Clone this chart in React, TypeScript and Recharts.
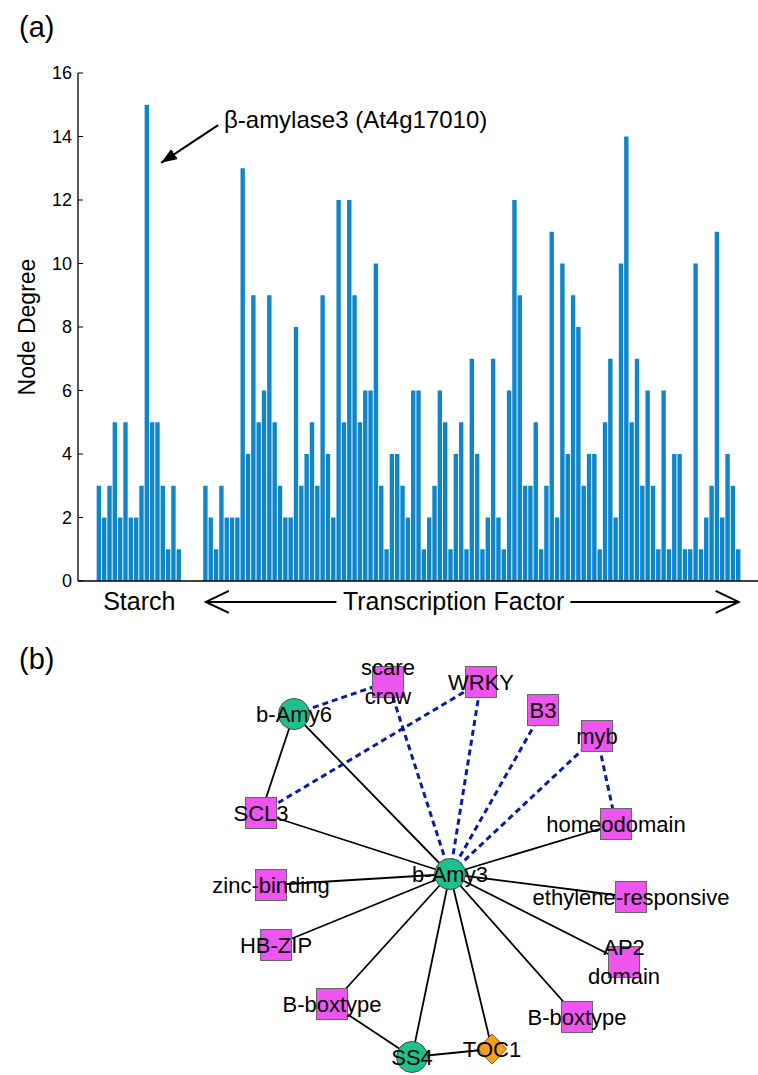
import React from "react";
import { BarChart, Bar, XAxis, YAxis, ReferenceLine, ReferenceDot, ScatterChart, Scatter } from "recharts";

const FONT = "'Liberation Sans', Arial, Helvetica, sans-serif";

// ---- (a) node degree of each gene ----
const starchStart = 4;
const starchDegree = [3, 2, 3, 5, 2, 5, 2, 2, 3, 15, 5, 5, 3, 1, 3, 1];
const tfStart = 24;
const tfDegree = [
  3, 2, 1, 3, 2, 2, 2, 13, 4, 9, 5, 6, 9, 5, 3, 2, 2, 8, 3, 4,
  5, 3, 9, 4, 2, 12, 5, 12, 9, 5, 6, 6, 10, 3, 1, 4, 4, 3, 2, 6,
  6, 1, 2, 3, 6, 5, 1, 4, 5, 1, 7, 4, 1, 2, 7, 2, 1, 6, 12, 9,
  3, 3, 5, 1, 3, 11, 2, 10, 4, 9, 8, 3, 4, 4, 1, 5, 7, 2, 10, 14,
  5, 7, 3, 6, 3, 1, 6, 1, 4, 4, 1, 1, 10, 1, 2, 3, 11, 2, 4, 3, 1,
];
const yTicks = [0, 2, 4, 6, 8, 10, 12, 14, 16];
const topTicks = [0, 20, 40, 60, 80, 100, 120];
const groupLabels = ["Starch", "Transcription Factor"];
const groupLabelAt = [11.5, 70.5];
const peakNote = "\u03b2-amylase3 (At4g17010)";

// ---- (b) co-expression network around b-Amy3 ----
const nodeIds = ["bAmy3", "bAmy6", "SS4", "TOC1", "scare", "WRKY", "B3", "myb", "homeo", "ethylene", "AP2", "bbox2", "bbox1", "hbzip", "zinc", "SCL3"];
const nodeLabels = ["b-Amy3", "b-Amy6", "SS4", "TOC1", "scare\ncrow", "WRKY", "B3", "myb", "homeodomain", "ethylene-responsive", "AP2\ndomain", "B-boxtype", "B-boxtype", "HB-ZIP", "zinc-binding", "SCL3"];
const nodeKinds = ["gene", "gene", "gene", "clock", "tf", "tf", "tf", "tf", "tf", "tf", "tf", "tf", "tf", "tf", "tf", "tf"];
const nodeX = [0, -156, -38, 42, -62, 31, 93, 147, 166, 181, 174, 127, -118, -174, -179, -189];
const nodeY = [0, 160, -183, -175, 192, 192, 164, 138, 50, -23, -88, -143, -130, -71, -11, 61];
const solidEdges = [
  ["bAmy3", "bAmy6"], ["bAmy3", "SCL3"], ["bAmy3", "zinc"], ["bAmy3", "hbzip"], ["bAmy3", "bbox1"],
  ["bAmy3", "SS4"], ["bAmy3", "TOC1"], ["bAmy3", "bbox2"], ["bAmy3", "AP2"], ["bAmy3", "ethylene"],
  ["bAmy3", "homeo"], ["bAmy6", "SCL3"], ["bbox1", "SS4"], ["SS4", "TOC1"],
];
const dashedEdges = [
  ["bAmy3", "scare"], ["bAmy3", "WRKY"], ["bAmy3", "B3"], ["bAmy3", "myb"],
  ["bAmy6", "scare"], ["SCL3", "WRKY"], ["myb", "homeo"],
];

const barData = [
  ...starchDegree.map((v, i) => ({ pos: starchStart + i, degree: v })),
  ...tfDegree.map((v, i) => ({ pos: tfStart + i, degree: v })),
];
const tfEnd = tfStart + tfDegree.length - 1;
const arrowY = -0.66;

const nodeData = nodeIds.map((id, i) => ({ id, x: nodeX[i], y: nodeY[i], label: nodeLabels[i], kind: nodeKinds[i] }));
const nodePoint = (id: string) => {
  const i = nodeIds.indexOf(id);
  return { x: nodeX[i], y: nodeY[i] };
};

const GroupTick = (props: any) => {
  const { x, y, payload } = props;
  const i = groupLabelAt.indexOf(payload.value);
  return (
    <text x={x} y={y + 29} textAnchor='middle' fontSize={25} fontFamily={FONT} fill='#000'>
      {groupLabels[i]}
    </text>
  );
};

const NodeShape = (p: any) => {
  const { cx, cy, payload } = p;
  if (payload.kind === "gene") {
    return <circle cx={cx} cy={cy} r={15.5} fill='#1ec08e' stroke='#4d4d4d' strokeWidth={1} />;
  }
  if (payload.kind === "clock") {
    return (
      <polygon
        points={`${cx},${cy - 15} ${cx + 14.5},${cy} ${cx},${cy + 15} ${cx - 14.5},${cy}`}
        fill='#f5a01a'
        stroke='#7a5a22'
        strokeWidth={1}
      />
    );
  }
  return <rect x={cx - 15.5} y={cy - 15.5} width={31} height={31} fill='#ee55ee' stroke='#666' strokeWidth={1} />;
};

const NodeLabel = (p: any) => {
  const { cx, cy, payload } = p;
  const lines: string[] = payload.label.split("\n");
  const start = cy + 7.7 - ((lines.length - 1) * 29) / 2;
  return (
    <text textAnchor='middle' fontSize={22} fontFamily={FONT} fill='#000'>
      {lines.map((t, k) => (
        <tspan key={k} x={cx} y={start + k * 29}>
          {t}
        </tspan>
      ))}
    </text>
  );
};

const App: React.FC = () => {
  return (
    <div style={{ position: "absolute", left: 0, top: 0, width: 758, height: 1075, overflow: "hidden", background: "#fff" }}>
      <svg width={758} height={1075} style={{ position: "absolute", left: 0, top: 0 }}>
        <defs>
          <marker id='chev' viewBox='0 0 26 26' refX={24} refY={13} markerWidth={26} markerHeight={26} markerUnits='userSpaceOnUse' orient='auto-start-reverse'>
            <path d='M1,2 L24,13 L1,24' fill='none' stroke='#000' strokeWidth={2} />
          </marker>
          <marker id='tri' viewBox='0 0 16 12' refX={16} refY={6} markerWidth={16} markerHeight={12} markerUnits='userSpaceOnUse' orient='auto'>
            <path d='M0,0 L16,6 L0,12 z' fill='#000' />
          </marker>
        </defs>
        <text x={19} y={37} fontSize={29} fontFamily={FONT} fill='#000'>(a)</text>
        <text x={19} y={669} fontSize={29} fontFamily={FONT} fill='#000'>(b)</text>
        <text transform='translate(27,327) rotate(-90)' textAnchor='middle' dominantBaseline='central' fontSize={23} fontFamily={FONT} fill='#000'>
          Node Degree
        </text>
      </svg>

      <div style={{ position: "absolute", left: 0, top: 0 }}>
        <BarChart width={780} height={621} data={barData} margin={{ top: 73, right: 20, left: 28, bottom: 0 }}>
          <XAxis
            dataKey='pos'
            type='number'
            domain={[0, 128]}
            ticks={groupLabelAt}
            interval={0}
            height={40}
            tickLine={false}
            tickSize={0}
            tickMargin={0}
            tick={<GroupTick />}
            axisLine={{ stroke: "#000", strokeWidth: 1.3 }}
          />
          <XAxis
            xAxisId='top'
            orientation='top'
            type='number'
            domain={[0, 128]}
            allowDataOverflow
            ticks={topTicks}
            interval={0}
            height={0}
            mirror
            tick={false}
            tickSize={5}
            tickLine={{ stroke: "#000" }}
            axisLine={{ stroke: "#000", strokeWidth: 1.3 }}
          />
          <YAxis
            type='number'
            domain={[0, 16]}
            ticks={yTicks}
            interval={0}
            width={50}
            tickSize={-5}
            tickMargin={11}
            tick={{ fill: "#000", fontSize: 18, fontFamily: FONT }}
            tickLine={{ stroke: "#000" }}
            axisLine={{ stroke: "#000", strokeWidth: 1.3 }}
          />
          <Bar dataKey='degree' fill='#0f86c9' barSize={4.4} isAnimationActive={false} />
          <ReferenceLine
            segment={[{ x: 26.3, y: 14.36 }, { x: 15.6, y: 13.17 }]}
            ifOverflow='visible'
            shape={(p: any) => <line x1={p.x1} y1={p.y1} x2={p.x2} y2={p.y2} stroke='#000' strokeWidth={2} markerEnd='url(#tri)' />}
          />
          <ReferenceDot
            x={27.4}
            y={14.27}
            ifOverflow='visible'
            shape={(p: any) => (
              <text x={p.cx} y={p.cy} fontSize={24} fontFamily={FONT} fill='#000'>
                {peakNote}
              </text>
            )}
          />
          <ReferenceLine
            segment={[{ x: 48.5, y: arrowY }, { x: tfStart, y: arrowY }]}
            ifOverflow='visible'
            shape={(p: any) => <line x1={p.x1} y1={p.y1} x2={p.x2} y2={p.y2} stroke='#000' strokeWidth={2} markerEnd='url(#chev)' />}
          />
          <ReferenceLine
            segment={[{ x: 92.4, y: arrowY }, { x: tfEnd, y: arrowY }]}
            ifOverflow='visible'
            shape={(p: any) => <line x1={p.x1} y1={p.y1} x2={p.x2} y2={p.y2} stroke='#000' strokeWidth={2} markerEnd='url(#chev)' />}
          />
        </BarChart>
      </div>

      <div style={{ position: "absolute", left: 190, top: 640 }}>
        <ScatterChart width={560} height={435} margin={{ top: 0, right: 0, bottom: 0, left: 0 }}>
          <XAxis type='number' dataKey='x' domain={[-260, 300]} hide />
          <YAxis type='number' dataKey='y' domain={[-201, 234]} hide />
          {solidEdges.map(([a, b], i) => (
            <ReferenceLine key={`s${i}`} segment={[nodePoint(a), nodePoint(b)]} stroke='#000' strokeWidth={1.8} />
          ))}
          {dashedEdges.map(([a, b], i) => (
            <ReferenceLine key={`d${i}`} segment={[nodePoint(a), nodePoint(b)]} stroke='#0c1c9e' strokeWidth={3} strokeDasharray='6 4' />
          ))}
          <Scatter data={nodeData} shape={NodeShape} isAnimationActive={false} />
          <Scatter data={nodeData} shape={NodeLabel} isAnimationActive={false} />
        </ScatterChart>
      </div>
    </div>
  );
};

export default App;
